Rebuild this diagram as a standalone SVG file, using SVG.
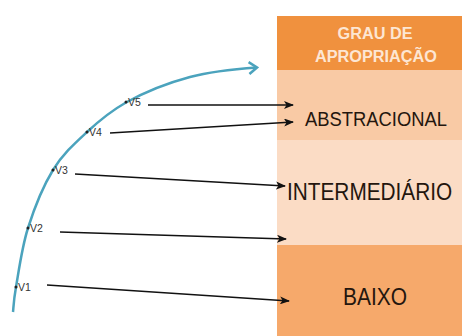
<svg xmlns="http://www.w3.org/2000/svg" width="462" height="336" viewBox="0 0 462 336">
<style>
.lvl{font-family:"Liberation Sans",Arial,sans-serif;fill:#24160e}
.hdr{font-family:"Liberation Sans",Arial,sans-serif;font-weight:bold;font-size:16px;fill:#fde6d3}
.v{font-family:"Liberation Sans",Arial,sans-serif;font-size:10.5px;fill:#333}
.arr{stroke:#111;stroke-width:1.6;fill:none;marker-end:url(#ah)}
</style>
<defs>
<marker id="ah" markerWidth="10" markerHeight="8" refX="9" refY="4" orient="auto" markerUnits="userSpaceOnUse">
<path d="M0,0 L10,4 L0,8 L2.5,4 Z" fill="#111"/>
</marker>
<marker id="bh" markerWidth="12" markerHeight="14" refX="10" refY="7" orient="auto" markerUnits="userSpaceOnUse">
<path d="M2,1 L10,7 L2,13" fill="none" stroke="#4ba3bd" stroke-width="2.5"/>
</marker>
</defs>
<rect width="462" height="336" fill="#fff"/>
<g id="header">
<rect x="277" y="16" width="185" height="54" fill="#f0913e"/>
<text class="hdr" x="375" y="39" text-anchor="middle" textLength="75" lengthAdjust="spacingAndGlyphs">GRAU DE</text>
<text class="hdr" x="376" y="62" text-anchor="middle" textLength="122" lengthAdjust="spacingAndGlyphs">APROPRIAÇÃO</text>
</g>
<g id="abstracional">
<rect x="277" y="70" width="185" height="70" fill="#f9caa5"/>
<text class="lvl" x="305" y="126" font-size="20" textLength="142" lengthAdjust="spacingAndGlyphs">ABSTRACIONAL</text>
</g>
<g id="intermediario">
<rect x="277" y="140" width="185" height="105" fill="#fbdcc5"/>
<text class="lvl" transform="translate(287,200) scale(1,1.13)" x="0" y="0" font-size="20.8">INTERMEDIÁRIO</text>
</g>
<g id="baixo">
<rect x="277" y="245" width="185" height="91" fill="#f6a96b"/>
<text class="lvl" x="343" y="305" font-size="24" textLength="64" lengthAdjust="spacingAndGlyphs">BAIXO</text>
</g>
<g id="curve">
<path d="M13,312 C13.5,307.8 13.5,301 16,287 C18.5,273 21.8,247.5 28,228 C34.2,208.5 43.2,186 53,170 C62.8,154 74.8,143.3 87,132 C99.2,120.7 110,111.5 126,102.5 C143.2,93 168.2,82.8 190,77 C211.8,71.2 240,68.7 257,67.5" fill="none" stroke="#4ba3bd" stroke-width="2.5" marker-end="url(#bh)"/>
</g>
<g id="points">
<circle cx="16" cy="287" r="1.5" fill="#222"/><text class="v" x="18" y="291">V1</text>
<circle cx="28" cy="228" r="1.5" fill="#222"/><text class="v" x="30" y="232">V2</text>
<circle cx="53" cy="170" r="1.5" fill="#222"/><text class="v" x="55" y="174">V3</text>
<circle cx="87" cy="132" r="1.5" fill="#222"/><text class="v" x="89" y="136">V4</text>
<circle cx="126" cy="102" r="1.5" fill="#222"/><text class="v" x="128" y="106">V5</text>
</g>
<g id="connectors">
<path class="arr" d="M148,105 L293,105"/>
<path class="arr" d="M110,133 L293,122"/>
<path class="arr" d="M75,174 L285,186"/>
<path class="arr" d="M60,232 L286,239"/>
<path class="arr" d="M47,285 L289,301"/>
</g>
</svg>
